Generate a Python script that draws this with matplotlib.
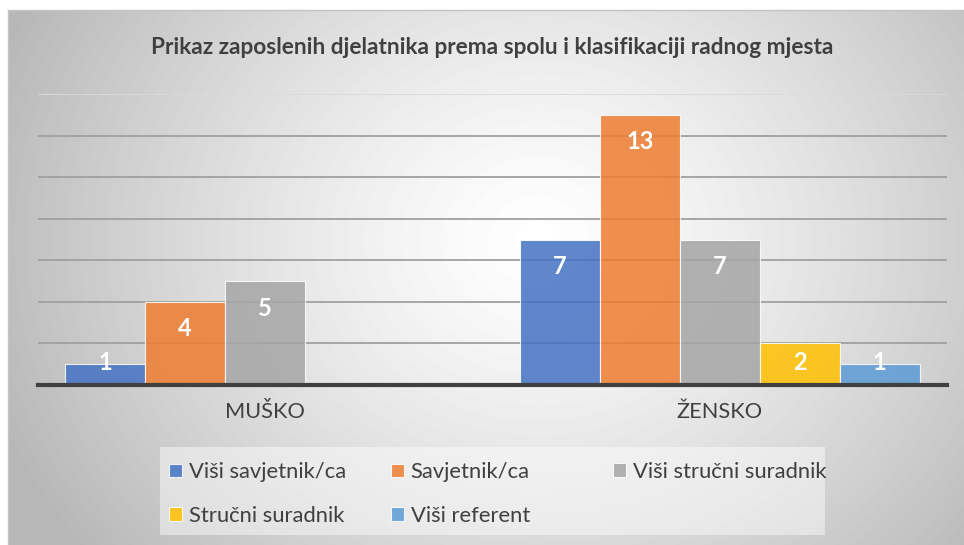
import numpy as np
import matplotlib
matplotlib.use('Agg')
from matplotlib import pyplot as plt
from matplotlib.patches import Rectangle

TITLE = 'Prikaz zaposlenih djelatnika prema spolu i klasifikaciji radnog mjesta'
CATEGORIES = ['MUŠKO', 'ŽENSKO']
SERIES = ['Viši savjetnik/ca', 'Savjetnik/ca', 'Viši stručni suradnik',
          'Stručni suradnik', 'Viši referent']
COLORS = ['#4472C4', '#ED7D31', '#A5A5A5', '#FFC000', '#5B9BD5']

VISI_SAVJETNIK = [1, 7]
SAVJETNIK = [4, 13]
VISI_STRUCNI = [5, 7]
STRUCNI = [0, 2]
VISI_REFERENT = [0, 1]
VALUES = [VISI_SAVJETNIK, SAVJETNIK, VISI_STRUCNI, STRUCNI, VISI_REFERENT]

FONT = 'Lato'
W, H = 964, 545

fig = plt.figure(figsize=(W / 100, H / 100), dpi=100)
fig.patch.set_facecolor('white')

# radial grey gradient behind everything
bg = fig.add_axes([8 / W, 0, (W - 8) / W, (H - 10) / H], zorder=-10)
yy, xx = np.mgrid[0:535, 0:956]
r = np.hypot(xx - 530, (yy - 230) * 1.15) / 480.
shade = np.clip(1.0 - 0.22 * np.clip(r, 0, 1.2) ** 1.3, 0, 1)
bg.imshow(shade, cmap='gray', vmin=0, vmax=1, extent=(0, 1, 0, 1), aspect='auto', origin='upper')
bg.set_xticks([])
bg.set_yticks([])
for s in bg.spines.values():
    s.set_color('#c4c4c4')
    s.set_linewidth(1)
bg.spines['bottom'].set_visible(False)
bg.spines['right'].set_visible(False)

ax = fig.add_axes([38 / W, 1 - 385 / H, 909 / W, 291 / H])
ax.patch.set_alpha(0)

x = np.arange(len(CATEGORIES))
width = 80 / 454.5
handles = []
for i, (name, vals, col) in enumerate(zip(SERIES, VALUES, COLORS)):
    pos = x + (i - 2) * width
    bars = ax.bar(pos, vals, width=width, color=col, alpha=0.85,
                  edgecolor=(1, 1, 1, 0.6), linewidth=0.8, zorder=3, label=name)
    handles.append(bars)
    for p, v in zip(pos, vals):
        if v == 0:
            continue
        ax.text(p, max(v - 1.3, 1.06), str(v), ha='center', va='center',
                color='white', fontsize=17, fontweight='bold', family=FONT, zorder=5)

ax.set_xlim(-0.5, 1.5)
ax.set_ylim(0, 14)
ax.set_yticks(np.arange(2, 15, 2))
ax.yaxis.grid(True, color='#a0a0a0', linewidth=1.3, zorder=4)
ax.set_axisbelow(False)
ax.get_ygridlines()[-1].set_color('#dadada')
ax.tick_params(axis='y', length=0, labelleft=False)
ax.set_xticks(x)
ax.set_xticklabels(CATEGORIES, fontsize=15.7, family=FONT, color='#404040')
ax.tick_params(axis='x', length=0, pad=12)
for s in ['left', 'right', 'top']:
    ax.spines[s].set_visible(False)
ax.spines['bottom'].set_color('#404040')
ax.spines['bottom'].set_linewidth(3)
ax.spines['bottom'].set_zorder(6)

fig.text(492 / W, 1 - 47 / H, TITLE, ha='center', va='center',
         fontsize=16.3, fontweight='bold', family=FONT, color='#404040')

# legend: light box with three equal-width columns, like Excel
fig.patches.append(Rectangle((160 / W, 1 - 535 / H), 665 / W, 88 / H,
                             transform=fig.transFigure, facecolor='white',
                             alpha=0.45, edgecolor='none', zorder=1))
columns = [[0, 3], [1, 4], [2]]
col_x = [169, 391, 613]
for cols, cx in zip(columns, col_x):
    cy = 472 if len(cols) == 1 else 494
    leg = fig.legend([handles[k] for k in cols], [SERIES[k] for k in cols],
                     loc='center left', bbox_to_anchor=(cx / W, 1 - cy / H),
                     prop={'family': FONT, 'size': 15.8}, handlelength=0.6,
                     handleheight=0.6, handletextpad=0.3, labelspacing=1.07,
                     frameon=False, borderpad=0, borderaxespad=0)
    for t in leg.get_texts():
        t.set_color('#404040')

fig.savefig('out.png', dpi=100)
